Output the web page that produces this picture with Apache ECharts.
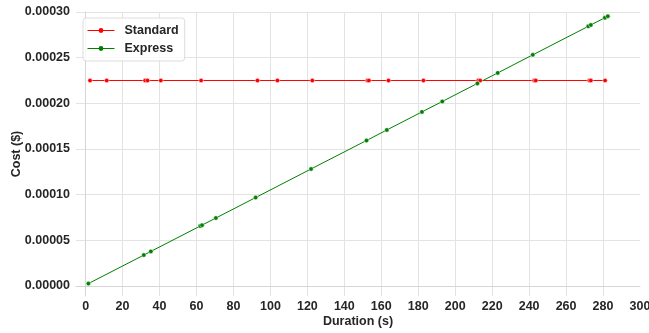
<!DOCTYPE html>
<html>
<head>
<meta charset="utf-8">
<script src="https://cdn.jsdelivr.net/npm/echarts@6/dist/echarts.min.js"></script>
<style>
html,body{margin:0;padding:0;background:#fff;}
#chart{width:649px;height:333px;}
</style>
</head>
<body>
<div id="chart"></div>
<script>
// Data
const standardDurations = [2.4, 11.4, 32.2, 33.5, 40.7, 62.5, 93.0, 103.8, 122.7, 152.5, 153.3, 163.9, 182.8, 212.5, 213.5, 242.8, 243.6, 272.6, 273.4, 281.1];
const standardCosts = [0.000225, 0.000225, 0.000225, 0.000225, 0.000225, 0.000225, 0.000225, 0.000225, 0.000225, 0.000225, 0.000225, 0.000225, 0.000225, 0.000225, 0.000225, 0.000225, 0.000225, 0.000225, 0.000225, 0.000225];
const expressDurations = [1.5, 31.5, 35.3, 62.0, 63.0, 70.5, 92.0, 122.0, 152.0, 163.0, 182.0, 193.0, 212.0, 223.0, 242.0, 272.0, 273.4, 281.0, 282.6];
const expressCosts = [0.0000026, 0.0000338, 0.0000378, 0.0000656, 0.0000666, 0.0000744, 0.0000968, 0.0001281, 0.0001593, 0.0001708, 0.0001906, 0.0002020, 0.0002218, 0.0002333, 0.0002531, 0.0002843, 0.0002858, 0.0002937, 0.0002954];
const xTickValues = [0, 20, 40, 60, 80, 100, 120, 140, 160, 180, 200, 220, 240, 260, 280];
const xLabelValues = [0, 20, 40, 60, 80, 100, 120, 140, 160, 180, 200, 220, 240, 260, 280, 300];
const yTickValues = [0, 0.00005, 0.0001, 0.00015, 0.0002, 0.00025, 0.0003];

const FONT = '"Liberation Sans", Arial, sans-serif';
const TXT = '#262626';

const zip = (xs, ys) => xs.map((x, i) => [x, ys[i]]);

const chart = echarts.init(document.getElementById('chart'), null, {renderer: 'canvas'});
chart.setOption({
  animation: false,
  backgroundColor: '#ffffff',
  grid: {left: 76, right: 9, top: 12, bottom: 37, containLabel: false, outerBoundsMode: 'none'},
  legend: {
    orient: 'vertical',
    left: 83, top: 18,
    itemWidth: 27, itemHeight: 6, itemGap: 5,
    padding: [6, 6, 6, 4],
    backgroundColor: 'rgba(255,255,255,0.8)',
    borderColor: '#dddddd', borderWidth: 1, borderRadius: 3,
    lineStyle: {width: 1},
    itemStyle: {borderWidth: 0},
    textStyle: {fontFamily: FONT, fontSize: 12.5, fontWeight: 'bold', color: TXT, padding: [0, 0, 0, 5]},
    data: ['Standard', 'Express']
  },
  xAxis: {
    type: 'value',
    min: -5.2, max: 300,
    name: 'Duration (s)',
    nameLocation: 'middle', nameGap: 19, nameMoveOverlap: false,
    nameTextStyle: {fontFamily: FONT, fontSize: 12.5, fontWeight: 'bold', color: TXT},
    axisLine: {show: true, lineStyle: {color: '#d5d5d5', width: 1}},
    axisTick: {show: false, customValues: xTickValues},
    axisLabel: {customValues: xLabelValues, margin: 4, fontFamily: FONT, fontSize: 12.5, fontWeight: 'bold', color: TXT, showMinLabel: true, showMaxLabel: true},
    splitLine: {show: true, lineStyle: {color: '#e3e3e3', width: 1}}
  },
  yAxis: {
    type: 'value',
    min: -0.000011, max: 0.0003,
    name: 'Cost ($)',
    nameLocation: 'middle', nameGap: 53, nameRotate: 90, nameMoveOverlap: false,
    nameTextStyle: {fontFamily: FONT, fontSize: 12.5, fontWeight: 'bold', color: TXT},
    axisLine: {show: true, lineStyle: {color: '#d5d5d5', width: 1}},
    axisTick: {show: false, customValues: yTickValues},
    axisLabel: {customValues: yTickValues, margin: 6, fontFamily: FONT, fontSize: 12.5, fontWeight: 'bold', color: TXT,
      formatter: v => Number(v).toFixed(5)},
    splitLine: {show: true, lineStyle: {color: '#e3e3e3', width: 1}}
  },
  series: [
    {
      name: 'Standard', type: 'line',
      data: zip(standardDurations, standardCosts),
      color: '#ff0000',
      symbol: 'circle', symbolSize: 4.5,
      lineStyle: {width: 1, color: '#ff0000'},
      itemStyle: {color: '#ff0000', borderColor: '#ffffff', borderWidth: 0.5},
      emphasis: {disabled: true}
    },
    {
      name: 'Express', type: 'line',
      data: zip(expressDurations, expressCosts),
      color: '#008000',
      symbol: 'circle', symbolSize: 4.5,
      lineStyle: {width: 1, color: '#008000'},
      itemStyle: {color: '#008000', borderColor: '#ffffff', borderWidth: 0.5},
      emphasis: {disabled: true}
    }
  ]
});
</script>
</body>
</html>
